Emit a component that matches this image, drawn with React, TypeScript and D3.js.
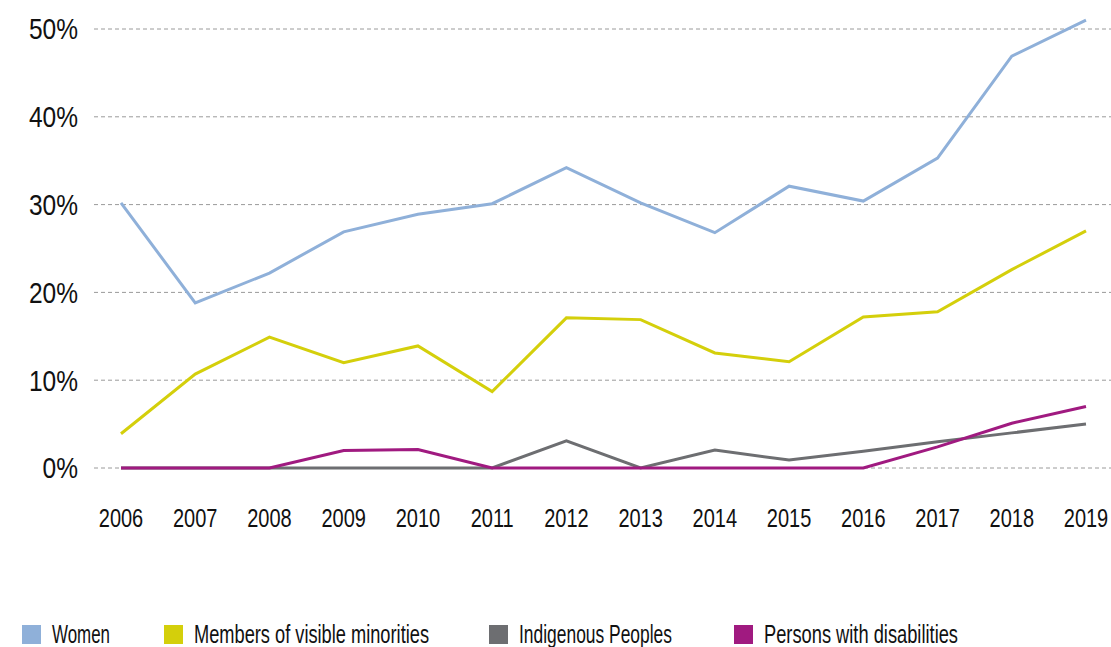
import React from "react";
import * as d3 from "d3";

const years = [2006, 2007, 2008, 2009, 2010, 2011, 2012, 2013, 2014, 2015, 2016, 2017, 2018, 2019];
const women = [30.2, 18.8, 22.2, 26.9, 28.9, 30.1, 34.2, 30.2, 26.8, 32.1, 30.4, 35.3, 46.9, 51.0];
const minorities = [3.9, 10.7, 14.9, 12.0, 13.9, 8.7, 17.1, 16.9, 13.1, 12.1, 17.2, 17.8, 22.6, 27.0];
const indigenous = [0, 0, 0, 0, 0, 0, 3.1, 0, 2.05, 0.9, 1.9, 3.0, 4.0, 5.0];
const disabilities = [0, 0, 0, 2.0, 2.1, 0, 0, 0, 0, 0, 0, 2.4, 5.1, 7.0];
const yTicks = [0, 10, 20, 30, 40, 50];

const seriesNames = ["Women", "Members of visible minorities", "Indigenous Peoples", "Persons with disabilities"];
const seriesColors = ["#8fb0d9", "#d4cf0b", "#6d6e71", "#a01a80"];
const seriesData = [women, minorities, indigenous, disabilities];
const legendX = [22, 164, 489, 734];
const legendWidths = [58, 235, 153, 194];

const W = 1111;
const H = 647;
const FONT = "'Liberation Sans', Arial, sans-serif";

export default function App() {
  const x = d3.scaleLinear().domain([2006, 2019]).range([121, 1086]);
  const y = d3.scaleLinear().domain([0, 50]).range([468, 29]);
  const line = d3
    .line<number>()
    .x((_, i) => x(years[i]))
    .y((d) => y(d));

  return (
    <svg
      width={W}
      height={H}
      style={{ position: "absolute", left: 0, top: 0, background: "#fff" }}
      fontFamily={FONT}
    >
      {yTicks.map((t) => (
        <g key={t}>
          <line x1={94} x2={W} y1={y(t)} y2={y(t)} stroke="#9a9a9a" strokeWidth={1} strokeDasharray="4,3" />
          <text
            transform={`translate(78,${y(t)}) scale(0.845,1)`}
            dy="0.36em"
            textAnchor="end"
            fontSize={29}
            fill="#111"
          >
            {t}%
          </text>
        </g>
      ))}
      {years.map((yr) => (
        <text
          key={yr}
          transform={`translate(${x(yr)},527) scale(0.8,1)`}
          textAnchor="middle"
          fontSize={25}
          fill="#111"
        >
          {yr}
        </text>
      ))}
      {seriesData.map((s, i) => (
        <path key={i} d={line(s) || ""} fill="none" stroke={seriesColors[i]} strokeWidth={3} strokeLinejoin="miter" />
      ))}
      {seriesNames.map((n, i) => (
        <g key={n}>
          <rect x={legendX[i]} y={625} width={19} height={19} fill={seriesColors[i]} />
          <text
            x={legendX[i] + 30}
            y={643}
            fontSize={25}
            fill="#111"
            textLength={legendWidths[i]}
            lengthAdjust="spacingAndGlyphs"
          >
            {n}
          </text>
        </g>
      ))}
    </svg>
  );
}
